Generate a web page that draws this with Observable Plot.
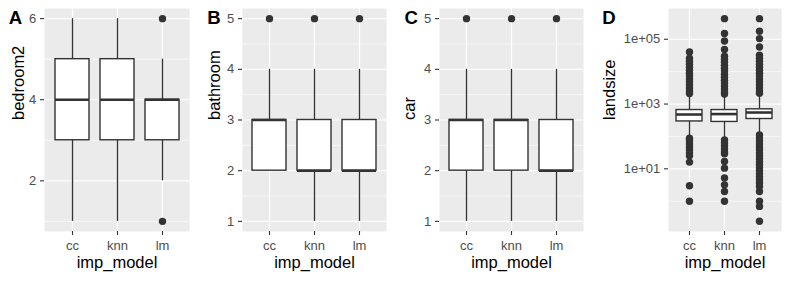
<!DOCTYPE html>
<html><head><meta charset="utf-8">
<script src="https://cdn.jsdelivr.net/npm/d3@7"></script>
<script src="https://cdn.jsdelivr.net/npm/@observablehq/plot@0.6"></script>
<style>
body{margin:0;background:white;}
#chart{position:relative;width:789px;height:282px;background:white;}
#chart svg{position:absolute;top:0;}
</style></head><body><div id="chart"></div>
<script>
const categories = ["cc", "knn", "lm"];
const xTitle = "imp_model";

// Panel A: bedroom2
const bedroomLow = [1, 1, 2];
const bedroomQ1 = [3, 3, 3];
const bedroomMedian = [4, 4, 4];
const bedroomQ3 = [5, 5, 4];
const bedroomHigh = [6, 6, 5];
const bedroomOutliers = [["lm", 1], ["lm", 6]];
const bedroomTicks = [2, 4, 6];
const bedroomTickLabels = ["2", "4", "6"];
const bedroomMinor = [1, 3, 5];

// Panel B: bathroom
const bathroomLow = [2, 1, 1];
const bathroomQ1 = [2, 2, 2];
const bathroomMedian = [3, 2, 2];
const bathroomQ3 = [3, 3, 3];
const bathroomHigh = [4, 4, 4];
const bathroomOutliers = [["cc", 5], ["knn", 5], ["lm", 5]];
const bathroomTicks = [1, 2, 3, 4, 5];
const bathroomTickLabels = ["1", "2", "3", "4", "5"];
const bathroomMinor = [1.5, 2.5, 3.5, 4.5];

// Panel C: car
const carLow = [1, 1, 1];
const carQ1 = [2, 2, 2];
const carMedian = [3, 3, 2];
const carQ3 = [3, 3, 3];
const carHigh = [4, 4, 4];
const carOutliers = [["cc", 5], ["knn", 5], ["lm", 5]];
const carTicks = [1, 2, 3, 4, 5];
const carTickLabels = ["1", "2", "3", "4", "5"];
const carMinor = [1.5, 2.5, 3.5, 4.5];

// Panel D: landsize (log scale)
const landLow = [100, 82, 130];
const landQ1 = [290, 280, 345];
const landMedian = [475, 490, 547];
const landQ3 = [653, 653, 687];
const landHigh = [1900, 2000, 2000];
const landOutliersCc = [40600, 26000, 21000, 17000, 13700, 11100, 9000, 7280, 5880, 4750, 3850, 3100, 2510, 2100,
  88, 72.8, 58.8, 47.5, 38.5, 31, 25.1, 16.1, 3, 1];
const landOutliersKnn = [433000, 150000, 88700, 48200, 30000, 24200, 19600, 15800, 12800, 10400, 8380, 6770, 5470, 4430, 3580, 2900, 2340, 2030,
  78, 63, 51, 41, 33, 29, 16.8, 10.5, 5.2, 3.2, 2.0, 1.0];
const landOutliersLm = [433000, 176000, 105000, 58000, 32200, 26000, 21000, 17000, 13700, 11100, 9000, 7280, 5880, 4750, 3850, 3100, 2510, 2170,
  111, 90, 72.8, 58.8, 47.5, 38.5, 31, 25.1, 20.3, 16.4, 13.3, 10.7, 8.7, 7.0, 5.7, 4.6, 3.7, 2.85, 2.0, 1.0, 0.69, 0.24];
const landTicks = [10, 1000, 100000];
const landTickLabels = ["1e+01", "1e+03", "1e+05"];
const landMinor = [1, 100, 10000];

const FONT = "'Liberation Sans', Arial, Helvetica, sans-serif";
const DARK = "#333333";
const TICKTEXT = "#4D4D4D";
const MT = 8, MB = 51, H = 282;

function panel(cfg) {
  const stats = categories.map((c, i) => ({cat: c, lo: cfg.low[i], q1: cfg.q1[i], med: cfg.med[i], q3: cfg.q3[i], hi: cfg.high[i]}));
  const frameW = cfg.width - cfg.marginLeft - cfg.marginRight;
  const frameH = H - MT - MB;
  const svg = Plot.plot({
    width: cfg.width, height: H,
    marginLeft: cfg.marginLeft, marginRight: cfg.marginRight, marginTop: MT, marginBottom: MB,
    style: {fontFamily: FONT, background: "transparent", overflow: "visible"},
    x: {type: "band", domain: categories, paddingInner: 0.25, paddingOuter: 0.225, axis: null},
    y: {type: cfg.type, domain: cfg.domain, axis: null},
    marks: [
      Plot.frame({fill: "#EBEBEB", stroke: null}),
      Plot.ruleY(cfg.minor, {stroke: "white", strokeWidth: 0.6}),
      Plot.ruleY(cfg.ticks, {stroke: "white", strokeWidth: 1.2}),
      Plot.ruleX(categories, {stroke: "white", strokeWidth: 1.2}),
      Plot.ruleX(stats, {x: "cat", y1: "lo", y2: "hi", stroke: DARK, strokeWidth: 1.3}),
      Plot.barY(stats, {x: "cat", y1: "q1", y2: "q3", fill: "white", stroke: DARK, strokeWidth: 1.4}),
      Plot.tickY(stats, {x: "cat", y: "med", stroke: DARK, strokeWidth: 2.6}),
      Plot.dot(cfg.outliers, {x: d => d[0], y: d => d[1], r: 3.7, fill: DARK}),
      // axis ticks
      Plot.ruleX(categories, {x: d => d, insetTop: frameH, insetBottom: -4, stroke: DARK, strokeWidth: 1.1}),
      Plot.ruleY(cfg.ticks, {y: d => d, insetRight: frameW, insetLeft: -4, stroke: DARK, strokeWidth: 1.1}),
      // axis tick labels
      Plot.text(categories, {x: d => d, text: d => d, frameAnchor: "bottom", lineAnchor: "top", dy: 8.8, fontSize: 13, fill: TICKTEXT}),
      Plot.text(cfg.ticks, {y: d => d, text: (d, i) => cfg.tickLabels[i], frameAnchor: "left", textAnchor: "end", dx: -8.3, fontSize: 13, fill: TICKTEXT}),
      // titles
      Plot.text([xTitle], {text: d => d, frameAnchor: "bottom", dy: 36.5, fontSize: 16.5, fill: "black"}),
      Plot.text([cfg.yTitle], {text: d => d, frameAnchor: "left", rotate: -90, dx: cfg.yTitleDx, fontSize: 16.5, fill: "black"}),
      Plot.text([cfg.letter], {text: d => d, frameAnchor: "top-left", textAnchor: "start", lineAnchor: "bottom",
        dx: cfg.letterX - cfg.marginLeft, dy: 15.3, fontSize: 18.6, fontWeight: "bold", fill: "black"})
    ]
  });
  svg.style.left = cfg.left + "px";
  document.getElementById("chart").appendChild(svg);
}

const pairs = (cat, arr) => arr.map(v => [cat, v]);

panel({left: 0, width: 195, marginLeft: 44, marginRight: 6, letter: "A", letterX: 8.3, yTitle: "bedroom2", yTitleDx: -26,
  type: "linear", domain: [0.75, 6.25], ticks: bedroomTicks, tickLabels: bedroomTickLabels, minor: bedroomMinor,
  low: bedroomLow, q1: bedroomQ1, med: bedroomMedian, q3: bedroomQ3, high: bedroomHigh, outliers: bedroomOutliers});

panel({left: 195, width: 195, marginLeft: 47, marginRight: 4, letter: "B", letterX: 11.7, yTitle: "bathroom", yTitleDx: -27.3,
  type: "linear", domain: [0.8, 5.2], ticks: bathroomTicks, tickLabels: bathroomTickLabels, minor: bathroomMinor,
  low: bathroomLow, q1: bathroomQ1, med: bathroomMedian, q3: bathroomQ3, high: bathroomHigh, outliers: bathroomOutliers});

panel({left: 390, width: 200, marginLeft: 49, marginRight: 7, letter: "C", letterX: 14, yTitle: "car", yTitleDx: -29.3,
  type: "linear", domain: [0.8, 5.2], ticks: carTicks, tickLabels: carTickLabels, minor: carMinor,
  low: carLow, q1: carQ1, med: carMedian, q3: carQ3, high: carHigh, outliers: carOutliers});

panel({left: 590, width: 199, marginLeft: 78, marginRight: 8, letter: "D", letterX: 11.7, yTitle: "landsize", yTitleDx: -58.3,
  type: "log", domain: [0.116, 891000], ticks: landTicks, tickLabels: landTickLabels, minor: landMinor,
  low: landLow, q1: landQ1, med: landMedian, q3: landQ3, high: landHigh,
  outliers: [...pairs("cc", landOutliersCc), ...pairs("knn", landOutliersKnn), ...pairs("lm", landOutliersLm)]});
</script>
</body></html>
